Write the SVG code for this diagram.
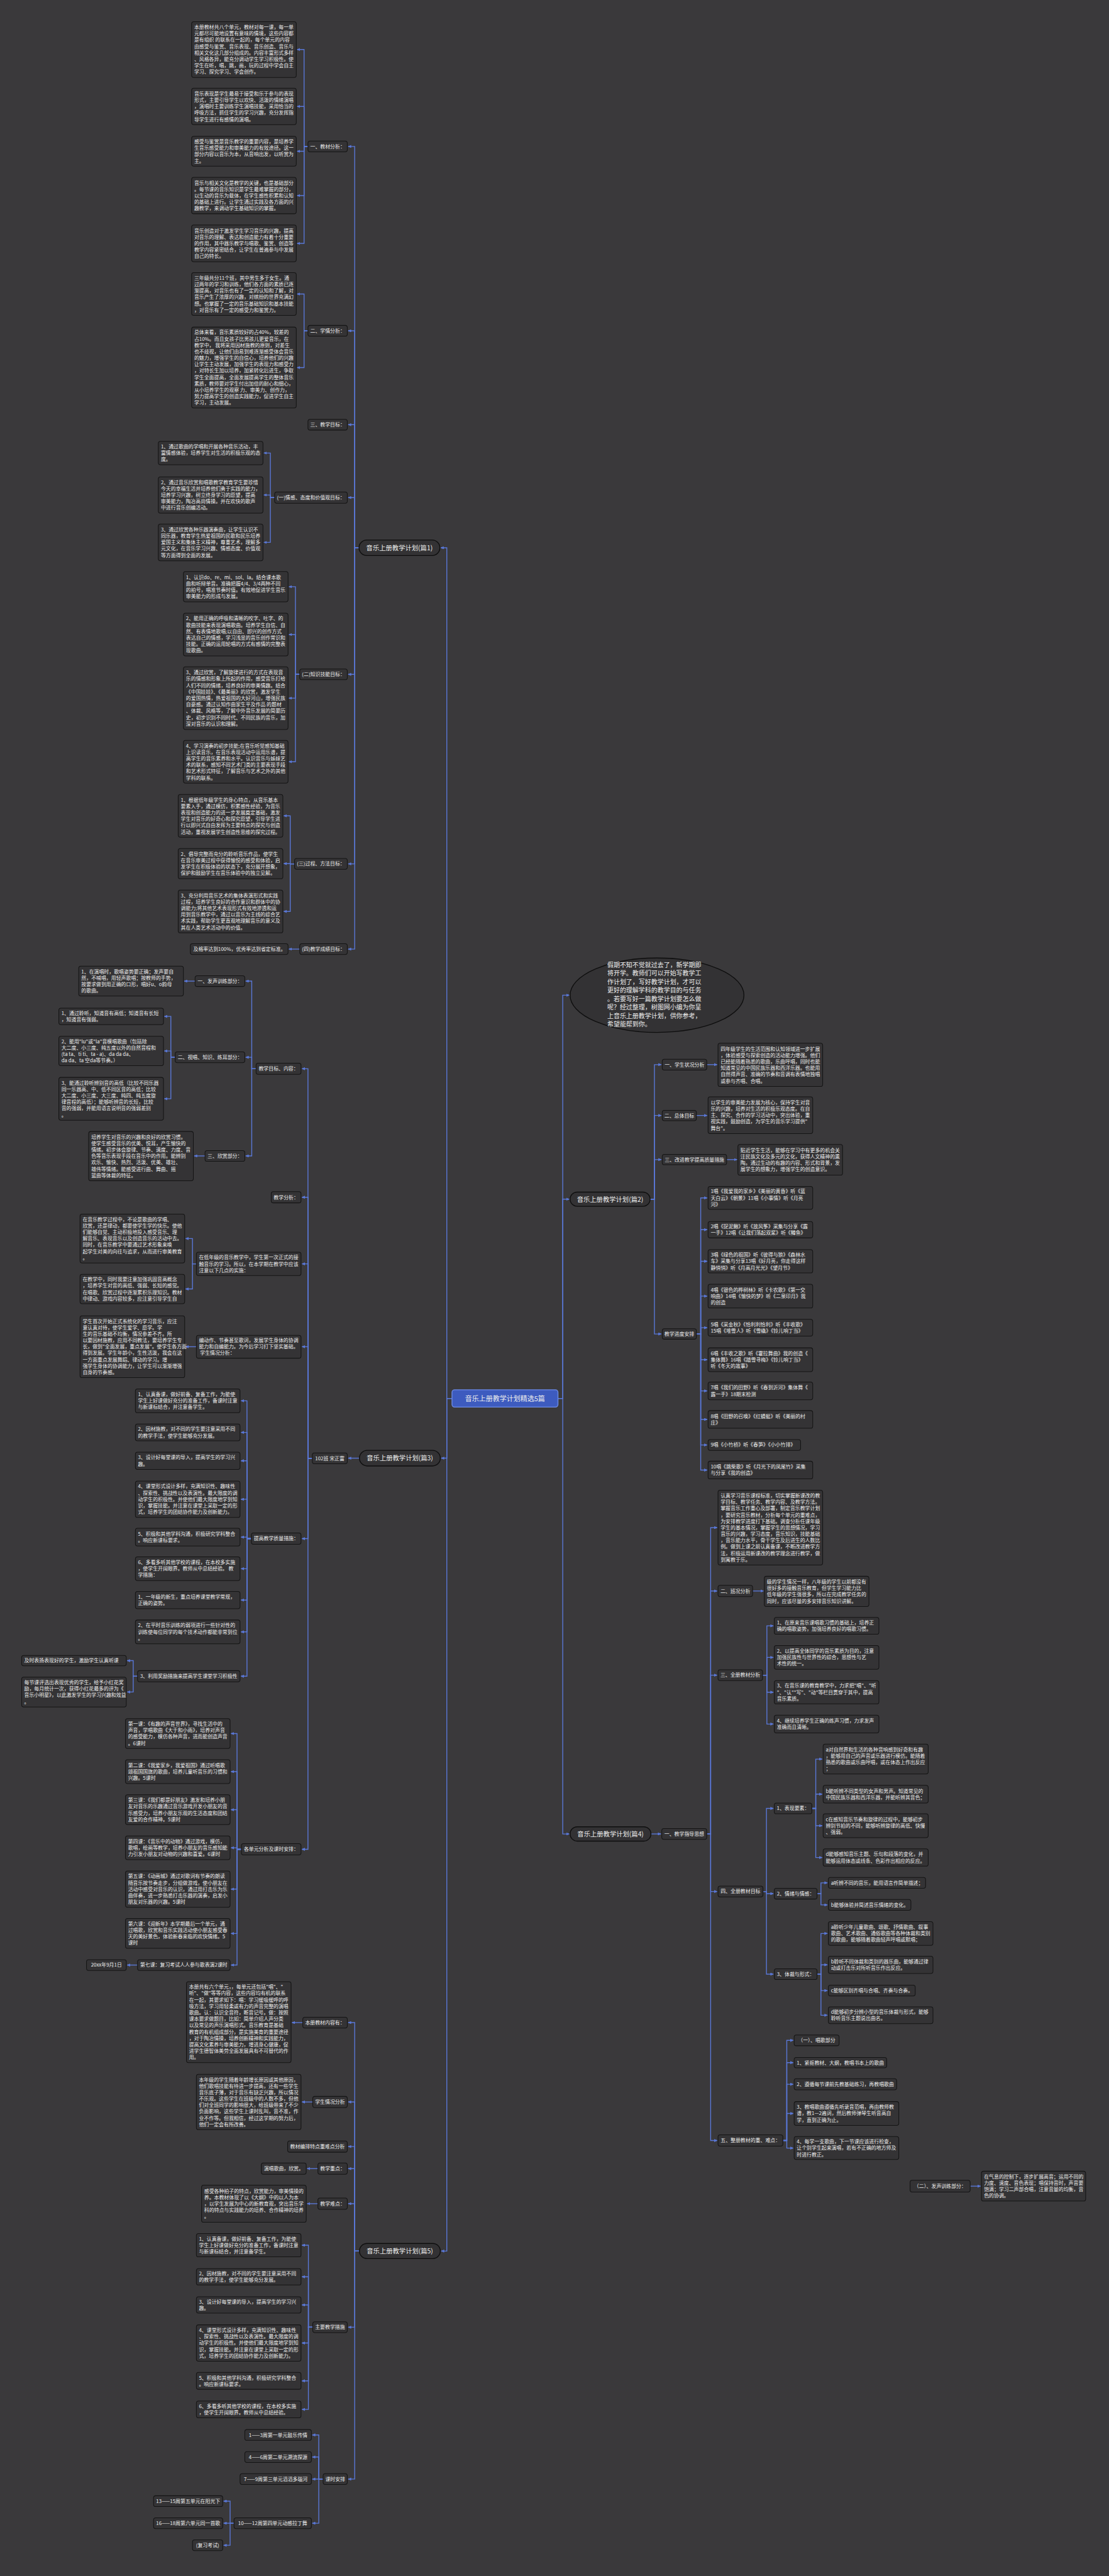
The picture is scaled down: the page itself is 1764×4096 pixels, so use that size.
<svg xmlns="http://www.w3.org/2000/svg" width="1764" height="4096" viewBox="0 0 1764 4096">
<defs>
<marker id="a" markerWidth="8" markerHeight="7" refX="7" refY="3.5" orient="auto" markerUnits="userSpaceOnUse"><path d="M0,0 L8,3.5 L0,7 Z" fill="#5a78d8"/></marker>
<style>
text{font-family:'Noto Sans CJK SC','Noto Sans',sans-serif;fill:#eeeeee;font-size:11.5px}
.c path{fill:none;stroke:#5a78d8;stroke-width:2;marker-end:url(#a)}
.r{fill:#343335;stroke:#141414;stroke-width:1.5}
.p{fill:#333234;stroke:#0e0e0e;stroke-width:2}
.m{text-anchor:middle}
.e{text-anchor:end}
.big{font-size:15px}
</style>
</defs>
<rect width="1764" height="4096" fill="#3a393b"/>
<g transform="scale(0.688)">
<g id="connectors" class="c">
<path d="M1045,3232 H1033 V1266 H1019"/><path d="M1045,3232 H1033 V3370 H1020"/><path d="M1045,3232 H1033 V5202.5 H1020"/>
<path d="M1290,3232 H1301 V2300 H1316"/><path d="M1290,3232 H1301 V2771.5 H1316"/><path d="M1290,3232 H1301 V4238.5 H1316"/>
<path d="M830,1266 H820 V338.5 H805"/><path d="M830,1266 H820 V764.5 H805"/><path d="M830,1266 H820 V981.5 H805"/><path d="M830,1266 H820 V1150 H805"/><path d="M830,1266 H820 V1558.5 H805"/><path d="M830,1266 H820 V1996.5 H805"/><path d="M830,1266 H820 V2193.5 H805"/>
<path d="M712,338.5 H703 V114.5 H687"/><path d="M712,338.5 H703 V246 H687"/><path d="M712,338.5 H703 V349.5 H687"/><path d="M712,338.5 H703 V452 H687"/><path d="M712,338.5 H703 V562.5 H687"/>
<path d="M712,764.5 H703 V679.5 H687"/><path d="M712,764.5 H703 V849.5 H687"/>
<path d="M635,1150 H625 V1047 H610"/><path d="M635,1150 H625 V1144 H610"/><path d="M635,1150 H625 V1253.5 H610"/>
<path d="M693,1558.5 H683 V1356 H668"/><path d="M693,1558.5 H683 V1466.5 H668"/><path d="M693,1558.5 H683 V1613.5 H668"/><path d="M693,1558.5 H683 V1760.5 H668"/>
<path d="M681,1996.5 H671 V1885.5 H656"/><path d="M681,1996.5 H671 V1996 H656"/><path d="M681,1996.5 H671 V2106.5 H656"/>
<path d="M693,2193.5 H668"/>
<path d="M831,3370 H805"/>
<path d="M722,3370.5 H712 V2470 H698"/><path d="M722,3370.5 H712 V2767 H698"/><path d="M722,3370.5 H712 V2921 H698"/><path d="M722,3370.5 H712 V3112.5 H698"/><path d="M722,3370.5 H712 V3556 H698"/><path d="M722,3370.5 H712 V4274 H698"/>
<path d="M592,2470 H582 V2267.5 H568"/><path d="M592,2470 H582 V2443.5 H568"/><path d="M592,2470 H582 V2671.5 H568"/>
<path d="M451,2267.5 H426"/>
<path d="M405,2443.5 H395 V2349 H380"/><path d="M405,2443.5 H395 V2429 H380"/><path d="M405,2443.5 H395 V2539.5 H380"/>
<path d="M474,2671.5 H449"/>
<path d="M454,2921 H445 V2862.5 H429"/><path d="M454,2921 H445 V2979 H429"/>
<path d="M454,3112.5 H429"/>
<path d="M581,3556 H571 V3237.5 H557"/><path d="M581,3556 H571 V3310.5 H557"/><path d="M581,3556 H571 V3376 H557"/><path d="M581,3556 H571 V3465 H557"/><path d="M581,3556 H571 V3552.5 H557"/><path d="M581,3556 H571 V3625.5 H557"/><path d="M581,3556 H571 V3698 H557"/><path d="M581,3556 H571 V3771.5 H557"/><path d="M581,3556 H571 V3874 H557"/>
<path d="M318,3874 H308 V3838 H294"/><path d="M318,3874 H308 V3910.5 H294"/>
<path d="M558,4274 H548 V4006.5 H534"/><path d="M558,4274 H548 V4094.5 H534"/><path d="M558,4274 H548 V4182.5 H534"/><path d="M558,4274 H548 V4270.5 H534"/><path d="M558,4274 H548 V4366 H534"/><path d="M558,4274 H548 V4468.5 H534"/><path d="M558,4274 H548 V4541.5 H534"/>
<path d="M318,4541.5 H294"/>
<path d="M831,5202.5 H820 V4674.5 H805"/><path d="M831,5202.5 H820 V4858 H805"/><path d="M831,5202.5 H820 V4961 H805"/><path d="M831,5202.5 H820 V5012 H805"/><path d="M831,5202.5 H820 V5093 H805"/><path d="M831,5202.5 H820 V5378.5 H805"/><path d="M831,5202.5 H820 V5729.5 H805"/>
<path d="M700,4674.5 H675"/><path d="M723,4858 H698"/><path d="M735,5012 H710"/><path d="M735,5093 H710"/>
<path d="M723,5378.5 H713 V5189 H698"/><path d="M723,5378.5 H713 V5262 H698"/><path d="M723,5378.5 H713 V5327 H698"/><path d="M723,5378.5 H713 V5415 H698"/><path d="M723,5378.5 H713 V5502.5 H698"/><path d="M723,5378.5 H713 V5568.5 H698"/>
<path d="M747,5729.5 H737 V5627.5 H722"/><path d="M747,5729.5 H737 V5678.5 H722"/><path d="M747,5729.5 H737 V5729.5 H722"/><path d="M747,5729.5 H737 V5831.5 H722"/>
<path d="M541,5831.5 H532 V5780.5 H517"/><path d="M541,5831.5 H532 V5831.5 H517"/><path d="M541,5831.5 H532 V5882.5 H517"/>
<path d="M1503,2771.5 H1513 V2460.5 H1529"/><path d="M1503,2771.5 H1513 V2578 H1529"/><path d="M1503,2771.5 H1513 V2680 H1529"/><path d="M1503,2771.5 H1513 V3083 H1529"/>
<path d="M1634,2460.5 H1658"/><path d="M1610,2578 H1635"/><path d="M1680,2680 H1704"/>
<path d="M1610,3083 H1620 V2768.5 H1635"/><path d="M1610,3083 H1620 V2842 H1635"/><path d="M1610,3083 H1620 V2915 H1635"/><path d="M1610,3083 H1620 V2995.5 H1635"/><path d="M1610,3083 H1620 V3068.5 H1635"/><path d="M1610,3083 H1620 V3142.5 H1635"/><path d="M1610,3083 H1620 V3214.5 H1635"/><path d="M1610,3083 H1620 V3280.5 H1635"/><path d="M1610,3083 H1620 V3339.5 H1635"/><path d="M1610,3083 H1620 V3397.5 H1635"/>
<path d="M1505,4238.5 H1528"/>
<path d="M1634,4238.5 H1643 V3530.5 H1658"/><path d="M1634,4238.5 H1643 V3677 H1658"/><path d="M1634,4238.5 H1643 V3871.5 H1658"/><path d="M1634,4238.5 H1643 V4371.5 H1658"/><path d="M1634,4238.5 H1643 V4947 H1658"/>
<path d="M1740,3677 H1765"/>
<path d="M1763,3871.5 H1773 V3757.5 H1788"/><path d="M1763,3871.5 H1773 V3830.5 H1788"/><path d="M1763,3871.5 H1773 V3911 H1788"/><path d="M1763,3871.5 H1773 V3984.5 H1788"/>
<path d="M1764,4371.5 H1772 V4179.5 H1788"/><path d="M1764,4371.5 H1772 V4376.5 H1788"/><path d="M1764,4371.5 H1772 V4562.5 H1788"/>
<path d="M1877,4179.5 H1886 V4065.5 H1901"/><path d="M1877,4179.5 H1886 V4146.5 H1901"/><path d="M1877,4179.5 H1886 V4219.5 H1901"/><path d="M1877,4179.5 H1886 V4293 H1901"/>
<path d="M1889,4376.5 H1898 V4351.5 H1913"/><path d="M1889,4376.5 H1898 V4402.5 H1913"/>
<path d="M1889,4562.5 H1898 V4468.5 H1913"/><path d="M1889,4562.5 H1898 V4541 H1913"/><path d="M1889,4562.5 H1898 V4600.5 H1913"/><path d="M1889,4562.5 H1898 V4657.5 H1913"/>
<path d="M1810,4947 H1819 V4715.5 H1834"/><path d="M1810,4947 H1819 V4767 H1834"/><path d="M1810,4947 H1819 V4817 H1834"/><path d="M1810,4947 H1819 V4884.5 H1834"/><path d="M1810,4947 H1819 V4964.5 H1834"/>
<path d="M2243,5052.5 H2267"/>
</g>

<g id="root"><rect x="1045" y="3212" width="245" height="40" rx="6" fill="#3d5bbf" stroke="#6e8ce6" stroke-width="2"/><text class="m" x="1167.5" y="3237.8" style="font-size:16px">音乐上册教学计划精选5篇</text></g>

<g id="p1"><rect class="p" x="830" y="1248" width="187" height="36" rx="18"/><text class="m big" x="923.5" y="1271.4">音乐上册教学计划(篇1)</text></g>
<g id="p1-l1"><rect class="r" x="712" y="326" width="91" height="25" rx="5"/><text class="m" x="757.5" y="342.7">一、教材分析：</text></g>
<g id="p1-l2"><rect class="r" x="712" y="752" width="91" height="25" rx="5"/><text class="m" x="757.5" y="768.7">二、学情分析：</text></g>
<g id="p1-l3"><rect class="r" x="712" y="969" width="91" height="25" rx="5"/><text class="m" x="757.5" y="985.7">三、教学目标：</text></g>
<g id="p1-l4"><rect class="r" x="635" y="1137" width="168" height="26" rx="5"/><text class="m" x="719" y="1154.2">(一)情感、态度和价值观目标：</text></g>
<g id="p1-l5"><rect class="r" x="693" y="1546" width="110" height="25" rx="5"/><text class="m" x="748" y="1562.7">(二)知识技能目标：</text></g>
<g id="p1-l6"><rect class="r" x="681" y="1984" width="122" height="25" rx="5"/><text class="m" x="742" y="2000.7">(三)过程、方法目标：</text></g>
<g id="p1-l7"><rect class="r" x="693" y="2181" width="110" height="25" rx="5"/><text class="m" x="748" y="2197.7">(四)教学成绩目标：</text></g>

<g id="p1-e1"><rect class="r" x="443" y="50" width="242" height="129" rx="5"/><text x="449" y="66.9"><tspan x="449">本册教材共八个单元，教材对每一课，每一单</tspan><tspan x="449" dy="14.8">元都尽可能地设置有意味的情境，这些内容都</tspan><tspan x="449" dy="14.8">是有组织 的联系在一起的，每个单元的内容</tspan><tspan x="449" dy="14.8">由感受与鉴赏、音乐表现、音乐创造、音乐与</tspan><tspan x="449" dy="14.8">相关文化这几部分组成的。内容丰富形式多样</tspan><tspan x="449" dy="14.8">、风格各异，能充分调动学生学习积极性。使</tspan><tspan x="449" dy="14.8">学生在听，唱，跳，画，玩的过程中学会自主</tspan><tspan x="449" dy="14.8">学习、探究学习、学会创作。</tspan></text></g>
<g id="p1-e2"><rect class="r" x="443" y="204" width="242" height="84" rx="5"/><text x="449" y="220.6"><tspan x="449">音乐表现是学生最易于接受和乐于参与的表现</tspan><tspan x="449" dy="14.8">形式，主要引导学生以欢快、活泼的情绪演唱</tspan><tspan x="449" dy="14.8">，演唱时主要训练学生演唱技能，采用恰当的</tspan><tspan x="449" dy="14.8">呼吸方法，抓住学生的学习兴趣，充分发挥指</tspan><tspan x="449" dy="14.8">导学生进行有感情的演唱。</tspan></text></g>
<g id="p1-e3"><rect class="r" x="443" y="315" width="242" height="69" rx="5"/><text x="449" y="331.5"><tspan x="449">感受与鉴赏是音乐教学的重要内容，是培养学</tspan><tspan x="449" dy="14.8">生音乐感受能力和审美能力的有效途径。这一</tspan><tspan x="449" dy="14.8">部分内容以音乐为本，从音响出发，以听赏为</tspan><tspan x="449" dy="14.8">主。</tspan></text></g>
<g id="p1-e4"><rect class="r" x="443" y="410" width="242" height="84" rx="5"/><text x="449" y="426.6"><tspan x="449">音乐与相关文化是教学的关键，也是基础部分</tspan><tspan x="449" dy="14.8">。每节课的音乐知识是学生最难掌握的部分，</tspan><tspan x="449" dy="14.8">以生动的音乐为载体，在学生感性积累和认知</tspan><tspan x="449" dy="14.8">的基础上进行。让学生通过实践及各方面的兴</tspan><tspan x="449" dy="14.8">趣教学，来调动学生基础知识的掌握。</tspan></text></g>
<g id="p1-e5"><rect class="r" x="443" y="520" width="242" height="85" rx="5"/><text x="449" y="537.1"><tspan x="449">音乐创造对于激发学生学习音乐的兴趣，提高</tspan><tspan x="449" dy="14.8">对音乐的理解、表达和创造能力有着十分重要</tspan><tspan x="449" dy="14.8">的作用，其中器乐教学与唱歌、鉴赏、创造等</tspan><tspan x="449" dy="14.8">教学内容紧密结合，让学生在普遍参与中发展</tspan><tspan x="449" dy="14.8">自己的特长。</tspan></text></g>
<g id="p1-q1"><rect class="r" x="443" y="630" width="242" height="99" rx="5"/><text x="449" y="646.7"><tspan x="449">三年级共分11个班，其中男生多于女生。通</tspan><tspan x="449" dy="14.8">过两年的学习和训练，他们各方面的素质已逐</tspan><tspan x="449" dy="14.8">渐提高，对音乐也有了一定的认知和了解，对</tspan><tspan x="449" dy="14.8">音乐产生了浓厚的兴趣，对缤纷的世界充满幻</tspan><tspan x="449" dy="14.8">想。也掌握了一定的音乐基础知识和基本技能</tspan><tspan x="449" dy="14.8">，对音乐有了一定的感受力和鉴赏力。</tspan></text></g>
<g id="p1-q2"><rect class="r" x="443" y="756" width="242" height="187" rx="5"/><text x="449" y="772.3"><tspan x="449">总体来看，音乐素质较好的占40%，较差的</tspan><tspan x="449" dy="14.8">占10%。而且女孩子比男孩儿更爱音乐，在</tspan><tspan x="449" dy="14.8">教学中， 我将采用因材施教的原则，对差生</tspan><tspan x="449" dy="14.8">也不歧视，让他们由易到难逐渐感受体会音乐</tspan><tspan x="449" dy="14.8">的魅力，增强学生的自信心，培养他们的兴趣</tspan><tspan x="449" dy="14.8">让学生主动发展，加强学生的表现力和感受力</tspan><tspan x="449" dy="14.8">，对特长生加以培养，加紧转化后进生，争取</tspan><tspan x="449" dy="14.8">学生全面提高，全面发展提高学生的整体音乐</tspan><tspan x="449" dy="14.8">素质，教师要对学生付出加倍的耐心和细心，</tspan><tspan x="449" dy="14.8">从小培养学生的观察 力、审美力、创作力，</tspan><tspan x="449" dy="14.8">努力提高学生的创造实践能力，促进学生自主</tspan><tspan x="449" dy="14.8">学习，主动发展。</tspan></text></g>
<g id="p1-a1"><rect class="r" x="366" y="1020" width="242" height="54" rx="5"/><text x="372" y="1036.4"><tspan x="372">1、通过歌曲的学唱和开展各种音乐活动，丰</tspan><tspan x="372" dy="14.8">富情感体验，培养学生对生活的积极乐观的态</tspan><tspan x="372" dy="14.8">度。</tspan></text></g>
<g id="p1-a2"><rect class="r" x="366" y="1102" width="242" height="84" rx="5"/><text x="372" y="1118.6"><tspan x="372">2、通过音乐欣赏和唱歌教学教育学生要珍惜</tspan><tspan x="372" dy="14.8">今天的幸福生活并培养他们勇于实践的能力，</tspan><tspan x="372" dy="14.8">培养学习兴趣，树立终身学习的愿望，提高</tspan><tspan x="372" dy="14.8">审美能力，陶冶高尚情操。并在欢快的歌声</tspan><tspan x="372" dy="14.8">中进行音乐创编活动。</tspan></text></g>
<g id="p1-a3"><rect class="r" x="366" y="1211" width="242" height="85" rx="5"/><text x="372" y="1228.1"><tspan x="372">3、通过欣赏各种乐器演奏曲，让学生认识不</tspan><tspan x="372" dy="14.8">同乐器，教育学生热爱祖国的民歌和民乐培养</tspan><tspan x="372" dy="14.8">爱国主义和集体主义精神，尊重艺术，理解多</tspan><tspan x="372" dy="14.8">元文化，在音乐学习兴趣、情感态度、价值观</tspan><tspan x="372" dy="14.8">等方面得到全面的发展。</tspan></text></g>
<g id="p1-k1"><rect class="r" x="424" y="1321" width="242" height="70" rx="5"/><text x="430" y="1338"><tspan x="430">1、认识do、re、mi、sol、la。结合课本歌</tspan><tspan x="430" dy="14.8">曲和听辩单音。准确把握4/4、3/4两种不同</tspan><tspan x="430" dy="14.8">的拍号，唱准节奏时值。有效地促进学生音乐</tspan><tspan x="430" dy="14.8">审美能力的形成与发展。</tspan></text></g>
<g id="p1-k2"><rect class="r" x="424" y="1417" width="242" height="99" rx="5"/><text x="430" y="1433.7"><tspan x="430">2、能用正确的呼吸和清晰的咬字、吐字、的</tspan><tspan x="430" dy="14.8">歌曲技能来表现演唱歌曲。培养学生自信、自</tspan><tspan x="430" dy="14.8">然、有表情地歌唱;以自由、即兴的创作方式</tspan><tspan x="430" dy="14.8">表达自己的情感，学习浅显的音乐创作常识和</tspan><tspan x="430" dy="14.8">技能。正确的运用轮唱的方式有感情的完整表</tspan><tspan x="430" dy="14.8">现歌曲。</tspan></text></g>
<g id="p1-k3"><rect class="r" x="424" y="1541" width="242" height="145" rx="5"/><text x="430" y="1558.5"><tspan x="430">3、通过欣赏，了解旋律进行的方式在表现音</tspan><tspan x="430" dy="14.8">乐的情感和形象上所起的作用，感受音乐打给</tspan><tspan x="430" dy="14.8">人们不同的情绪，培养良好的审美情趣。结合</tspan><tspan x="430" dy="14.8">《中国娃娃》、《最美丽》的欣赏，激发学生</tspan><tspan x="430" dy="14.8">的爱国热情，热爱祖国的大好河山，增强民族</tspan><tspan x="430" dy="14.8">自豪感。通过认知作曲家生平及作品 的题材</tspan><tspan x="430" dy="14.8">、体裁、风格等，了解中外音乐发展的简要历</tspan><tspan x="430" dy="14.8">史，初步识别不同时代、不同民族的音乐，加</tspan><tspan x="430" dy="14.8">深对音乐的认识和理解。</tspan></text></g>
<g id="p1-k4"><rect class="r" x="424" y="1711" width="242" height="99" rx="5"/><text x="430" y="1727.7"><tspan x="430">4、学习演奏的初步技能;在音乐听觉感知基础</tspan><tspan x="430" dy="14.8">上识读音乐，在音乐表现活动中运用乐谱，提</tspan><tspan x="430" dy="14.8">高学生的音乐素养和水平。认识音乐与姊妹艺</tspan><tspan x="430" dy="14.8">术的联系，感知不同艺术门类的主要表现手段</tspan><tspan x="430" dy="14.8">和艺术形式特征，了解音乐与艺术之外的其他</tspan><tspan x="430" dy="14.8">学科的联系。</tspan></text></g>
<g id="p1-m1"><rect class="r" x="412" y="1836" width="242" height="99" rx="5"/><text x="418" y="1852.7"><tspan x="418">1、根据低年级学生的身心特点，从音乐基本</tspan><tspan x="418" dy="14.8">要素入手，通过模仿，积累感性经验，为音乐</tspan><tspan x="418" dy="14.8">表现和创造能力的进一步发展奠定基础，激发</tspan><tspan x="418" dy="14.8">学生对音乐的好奇心和探究愿望，引导学生进</tspan><tspan x="418" dy="14.8">行以即兴式自由发挥为主要特点的探究与创造</tspan><tspan x="418" dy="14.8">活动，重视发展学生创造性思维的探究过程。</tspan></text></g>
<g id="p1-m2"><rect class="r" x="412" y="1961" width="242" height="70" rx="5"/><text x="418" y="1978"><tspan x="418">2、倡导完整而充分的聆听音乐作品，使学生</tspan><tspan x="418" dy="14.8">在音乐审美过程中获得愉悦的感受和体验，启</tspan><tspan x="418" dy="14.8">发学生在积极体验的状态下，充分展开想象，</tspan><tspan x="418" dy="14.8">保护和鼓励学生在音乐体验中的独立见解。</tspan></text></g>
<g id="p1-m3"><rect class="r" x="412" y="2057" width="242" height="99" rx="5"/><text x="418" y="2073.7"><tspan x="418">3、充分利用音乐艺术的集体表演形式和实践</tspan><tspan x="418" dy="14.8">过程，培养学生良好的合作意识和群体中的协</tspan><tspan x="418" dy="14.8">调能力;将其他艺术表现形式有效地渗透和运</tspan><tspan x="418" dy="14.8">用到音乐教学中，通过以音乐为主线的综合艺</tspan><tspan x="418" dy="14.8">术实践，帮助学生更直观地理解音乐的意义及</tspan><tspan x="418" dy="14.8">其在人类艺术活动中的价值。</tspan></text></g>
<g id="p1-g"><rect class="r" x="440" y="2181" width="226" height="25" rx="5"/><text x="447" y="2197.7">及格率达到100%，优秀率达到省定标准。</text></g>

<g id="p3"><rect class="p" x="831" y="3352" width="187" height="36" rx="18"/><text class="m big" x="924.5" y="3375.4">音乐上册教学计划(篇3)</text></g>
<g id="p3-t"><rect class="r" x="722" y="3358" width="81" height="25" rx="5"/><text class="m" x="762.5" y="3374.7">102班 宋正富</text></g>
<g id="p3-n1"><rect class="r" x="592" y="2457" width="104" height="26" rx="5"/><text class="m" x="644" y="2474.2">教学目标、内容：</text></g>
<g id="p3-n2"><rect class="r" x="627" y="2754" width="69" height="26" rx="5"/><text class="m" x="661.5" y="2771.2">教学分析：</text></g>
<g id="p3-n3"><rect class="r" x="454" y="2894" width="242" height="54" rx="5"/><text x="460" y="2910.4"><tspan x="460">在低年级的音乐教学中，学生第一次正式的接</tspan><tspan x="460" dy="14.8">触音乐的学习。所以，在本学期在教学中应该</tspan><tspan x="460" dy="14.8">注意以下几点的实施：</tspan></text></g>
<g id="p3-n4"><rect class="r" x="454" y="3086" width="242" height="53" rx="5"/><text x="460" y="3101.9"><tspan x="460">编动作、节奏甚至歌词，发展学生身体的协调</tspan><tspan x="460" dy="14.8">能力和自编能力。为今后学习打下坚实基础。</tspan><tspan x="460" dy="14.8"> 学生情况分析：</tspan></text></g>
<g id="p3-n5"><rect class="r" x="581" y="3543" width="115" height="26" rx="5"/><text class="m" x="638.5" y="3560.2">提高教学质量措施：</text></g>
<g id="p3-n6"><rect class="r" x="558" y="4261" width="138" height="26" rx="5"/><text class="m" x="627" y="4278.2">各单元分析及课时安排：</text></g>
<g id="p3-s1"><rect class="r" x="451" y="2255" width="115" height="25" rx="5"/><text class="m" x="508.5" y="2271.7">一、发声训练部分：</text></g>
<g id="p3-s2"><rect class="r" x="405" y="2431" width="161" height="25" rx="5"/><text class="m" x="485.5" y="2447.7">二、视唱、知识、练耳部分：</text></g>
<g id="p3-s3"><rect class="r" x="474" y="2659" width="92" height="25" rx="5"/><text class="m" x="520" y="2675.7">三、欣赏部分：</text></g>
<g id="p3-s1c"><rect class="r" x="182" y="2233" width="242" height="69" rx="5"/><text x="188" y="2249.5"><tspan x="188">1、在演唱时，歌唱姿势要正确；发声要自</tspan><tspan x="188" dy="14.8">然，不喊唱，用轻声歌唱；按教师的手势，</tspan><tspan x="188" dy="14.8">按要求做到用正确的口形，唱好u、o韵母</tspan><tspan x="188" dy="14.8">的歌曲。</tspan></text></g>
<g id="p3-c1"><rect class="r" x="136" y="2330" width="242" height="38" rx="5"/><text x="142" y="2345.8"><tspan x="142">1、通过聆听，知道音有高低；知道音有长短</tspan><tspan x="142" dy="14.8">，知道音有强弱。</tspan></text></g>
<g id="p3-c2"><rect class="r" x="136" y="2395" width="242" height="68" rx="5"/><text x="142" y="2411"><tspan x="142">2、能用"lu"或"la"音模唱歌曲（包括除</tspan><tspan x="142" dy="14.8">大二度、小三度、纯五度以外的自然音程和</tspan><tspan x="142" dy="14.8">(ta ta、ti ti、ta - a)、da da da、</tspan><tspan x="142" dy="14.8">da da、ta 空da等节奏。）</tspan></text></g>
<g id="p3-c3"><rect class="r" x="136" y="2490" width="242" height="99" rx="5"/><text x="142" y="2506.7"><tspan x="142">3、能通过聆听辨别音的高低（比较不同乐器</tspan><tspan x="142" dy="14.8">同一乐器高、中、低不同区音的高低；比较</tspan><tspan x="142" dy="14.8">大二度、小三度、大三度、纯四、纯五度旋</tspan><tspan x="142" dy="14.8">律音程的高低）；能够听辨音的长短，比较</tspan><tspan x="142" dy="14.8">音的强弱，并能用语言说明音的强弱差别</tspan><tspan x="142" dy="14.8">。</tspan></text></g>
<g id="p3-s3c"><rect class="r" x="205" y="2615" width="242" height="114" rx="5"/><text x="211" y="2631.8"><tspan x="211">培养学生对音乐的兴趣和良好的欣赏习惯。</tspan><tspan x="211" dy="14.8">使学生感受音乐的优美、悦耳，产生愉快的</tspan><tspan x="211" dy="14.8">情绪。初步体会旋律、节奏、速度、力度、音</tspan><tspan x="211" dy="14.8">色等音乐表现手段在音乐中的作用。能辨别</tspan><tspan x="211" dy="14.8">欢乐、愉快、热烈、活泼、优美、雄壮、</tspan><tspan x="211" dy="14.8">雄伟等情绪。能感受进行曲、舞曲、摇</tspan><tspan x="211" dy="14.8">篮曲等体裁的特征。</tspan></text></g>
<g id="p3-b1"><rect class="r" x="185" y="2806" width="242" height="113" rx="5"/><text x="191" y="2822.3"><tspan x="191">在音乐教学过程中，不论是歌曲的学唱、</tspan><tspan x="191" dy="14.8">欣赏，还是律动，都要使学生学的快乐。使他</tspan><tspan x="191" dy="14.8">们能够自觉、主动积极地投入感受音乐、理</tspan><tspan x="191" dy="14.8">解音乐、表现音乐以及创造音乐的活动中去。</tspan><tspan x="191" dy="14.8">同时，在音乐教学中要通过艺术形象来唤</tspan><tspan x="191" dy="14.8">起学生对美的向往与追求，从而进行审美教育</tspan><tspan x="191" dy="14.8">。</tspan></text></g>
<g id="p3-b2"><rect class="r" x="185" y="2945" width="242" height="68" rx="5"/><text x="191" y="2961"><tspan x="191">在教学中，同时我要注意加强巩固音高概念</tspan><tspan x="191" dy="14.8">，培养学生对音的高低、强弱、长短的感觉。</tspan><tspan x="191" dy="14.8">在唱歌、欣赏过程中逐渐累积乐理知识。教材</tspan><tspan x="191" dy="14.8">中律动、游戏内容较多，应注意引导学生自</tspan></text></g>
<g id="p3-b3"><rect class="r" x="185" y="3041" width="242" height="143" rx="5"/><text x="191" y="3057.5"><tspan x="191">学生首次开始正式系统化的学习音乐，应注</tspan><tspan x="191" dy="14.8">意认真对待，使学生爱学、愿学。学</tspan><tspan x="191" dy="14.8">生的音乐基础不均衡，情况参差不齐。所</tspan><tspan x="191" dy="14.8">以要因材施教，应用不同教法，要培养学生专</tspan><tspan x="191" dy="14.8">长，做到"全面发展，重点发展"。使学生各方面</tspan><tspan x="191" dy="14.8">得到发展。学生年龄小，生性活泼，我会在这</tspan><tspan x="191" dy="14.8">一方面重点发展舞蹈、律动的学习。增</tspan><tspan x="191" dy="14.8">强学生身体的协调能力，让学生可以渐渐增强</tspan><tspan x="191" dy="14.8">自身的节奏感。</tspan></text></g>
<g id="p3-m1"><rect class="r" x="313" y="3210" width="242" height="55" rx="5"/><text x="319" y="3226.9"><tspan x="319">1、认真备课，做好前备、复备工作，为能使</tspan><tspan x="319" dy="14.8">学生上好课做好充分的准备工作，备课时注意</tspan><tspan x="319" dy="14.8">与新课标结合，并注意备学生。</tspan></text></g>
<g id="p3-m2"><rect class="r" x="313" y="3291" width="242" height="39" rx="5"/><text x="319" y="3307.3"><tspan x="319">2、因材施教，对不同的学生要注意采用不同</tspan><tspan x="319" dy="14.8">的教学手法，使学生能够充分发展。</tspan></text></g>
<g id="p3-m3"><rect class="r" x="313" y="3356" width="242" height="40" rx="5"/><text x="319" y="3372.8"><tspan x="319">3、设计好每堂课的导入，提高学生的学习兴</tspan><tspan x="319" dy="14.8">趣。</tspan></text></g>
<g id="p3-m4"><rect class="r" x="313" y="3423" width="242" height="84" rx="5"/><text x="319" y="3439.6"><tspan x="319">4、课堂形式设计多样，充满知识性、趣味性</tspan><tspan x="319" dy="14.8">、探索性、挑战性以及表演性。最大限度的调</tspan><tspan x="319" dy="14.8">动学生的积极性。并使他们最大限度地学到知</tspan><tspan x="319" dy="14.8">识，掌握技能。并注意在课堂上采取一定的形</tspan><tspan x="319" dy="14.8">式，培养学生的团结协作能力及创新能力。</tspan></text></g>
<g id="p3-m5"><rect class="r" x="313" y="3532" width="242" height="41" rx="5"/><text x="319" y="3549.3"><tspan x="319">5、积极和其他学科沟通，积极研究学科整合</tspan><tspan x="319" dy="14.8">。响应新课标要求。</tspan></text></g>
<g id="p3-m6"><rect class="r" x="313" y="3598" width="242" height="55" rx="5"/><text x="319" y="3614.9"><tspan x="319">6、多看多听其他学校的课程，在本校多实施</tspan><tspan x="319" dy="14.8">，使学生开阔眼界。教师从中总结经验。 教</tspan><tspan x="319" dy="14.8">学措施：</tspan></text></g>
<g id="p3-m7"><rect class="r" x="313" y="3678" width="242" height="40" rx="5"/><text x="319" y="3694.8"><tspan x="319">1、一年级的新生，重点培养课堂教学常规，</tspan><tspan x="319" dy="14.8">正确的姿势。</tspan></text></g>
<g id="p3-m8"><rect class="r" x="313" y="3744" width="242" height="55" rx="5"/><text x="319" y="3760.9"><tspan x="319">2、在平时音乐训练的弱项进行一些针对性的</tspan><tspan x="319" dy="14.8">训练使每位同学的每个技术动作都能非常到位</tspan><tspan x="319" dy="14.8">。</tspan></text></g>
<g id="p3-m9"><rect class="r" x="318" y="3861" width="237" height="26" rx="5"/><text x="324" y="3878.2">3、利用奖励措施来提高学生课堂学习积极性</text></g>
<g id="p3-x1"><rect class="r" x="50" y="3826" width="242" height="24" rx="5"/><text x="56" y="3842.2">及时表扬表现好的学生，激励学生认真听课</text></g>
<g id="p3-x2"><rect class="r" x="50" y="3876" width="242" height="69" rx="5"/><text x="56" y="3892.5"><tspan x="56">每节课评选出表现优秀的学生，给予小红花奖</tspan><tspan x="56" dy="14.8">励，每月统计一次，获得小红花最多的评为《</tspan><tspan x="56" dy="14.8">音乐小明星》，以此激发学生的学习兴趣和效益</tspan><tspan x="56" dy="14.8">。</tspan></text></g>
<g id="p3-u1"><rect class="r" x="290" y="3972" width="242" height="69" rx="5"/><text x="296" y="3988.5"><tspan x="296">第一课：《有趣的声音世界》，寻找生活中的</tspan><tspan x="296" dy="14.8">声音，学唱歌曲《大于和小雨》，培养对声音</tspan><tspan x="296" dy="14.8">的感受能力，模仿各种声音，进而能创造声音</tspan><tspan x="296" dy="14.8">。6课时</tspan></text></g>
<g id="p3-u2"><rect class="r" x="290" y="4067" width="242" height="55" rx="5"/><text x="296" y="4083.9"><tspan x="296">第二课：《我爱家乡，我爱祖国》通过听唱歌</tspan><tspan x="296" dy="14.8">颂祖国国旗的歌曲，培养儿童听音乐的习惯和</tspan><tspan x="296" dy="14.8">兴趣。5课时</tspan></text></g>
<g id="p3-u3"><rect class="r" x="290" y="4148" width="242" height="69" rx="5"/><text x="296" y="4164.5"><tspan x="296">第三课：《我们都是好朋友》激发和培养小朋</tspan><tspan x="296" dy="14.8">友对音乐的乐趣通过音乐游戏开发小朋友的音</tspan><tspan x="296" dy="14.8">乐感受力，培养小朋友乐观的生活态度和团结</tspan><tspan x="296" dy="14.8">友爱的合作精神。5课时</tspan></text></g>
<g id="p3-u4"><rect class="r" x="290" y="4243" width="242" height="55" rx="5"/><text x="296" y="4259.9"><tspan x="296">第四课：《音乐中的动物》通过游戏，模仿，</tspan><tspan x="296" dy="14.8">歌唱，绘画等教学，培养小朋友的音乐感知能</tspan><tspan x="296" dy="14.8">力引发小朋友对动物的兴趣和喜爱。6课时</tspan></text></g>
<g id="p3-u5"><rect class="r" x="290" y="4324" width="242" height="84" rx="5"/><text x="296" y="4340.6"><tspan x="296">第五课：《动画城》通过对歌词有节奏的朗读</tspan><tspan x="296" dy="14.8">随音乐按节奏走步，分组做游戏，使小朋友在</tspan><tspan x="296" dy="14.8">活动中感受对音乐的认识，通过用打击乐为乐</tspan><tspan x="296" dy="14.8">曲伴奏，进一步熟悉打击乐器的演奏，启发小</tspan><tspan x="296" dy="14.8">朋友对乐器的兴趣。5课时</tspan></text></g>
<g id="p3-u6"><rect class="r" x="290" y="4434" width="242" height="69" rx="5"/><text x="296" y="4450.5"><tspan x="296">第六课：《迎新年》本学期最后一个单元，通</tspan><tspan x="296" dy="14.8">过唱歌，欣赏和音乐实践活动使小朋友感受春</tspan><tspan x="296" dy="14.8">天的美好景色，体验新春来临的欢快情绪。5</tspan><tspan x="296" dy="14.8">课时</tspan></text></g>
<g id="p3-u7"><rect class="r" x="318" y="4529" width="214" height="25" rx="5"/><text x="324" y="4545.7">第七课：复习考试人人参与歌表演2课时</text></g>
<g id="p3-u7c"><rect class="r" x="200" y="4529" width="92" height="25" rx="5"/><text class="m" x="246" y="4545.7">20xx年9月1日</text></g>

<g id="p5"><rect class="p" x="831" y="5185" width="187" height="35" rx="17.5"/><text class="m big" x="924.5" y="5207.8">音乐上册教学计划(篇5)</text></g>
<g id="p5-n1"><rect class="r" x="700" y="4662" width="103" height="25" rx="5"/><text class="m" x="751.5" y="4678.7">本册教材内容有：</text></g>
<g id="p5-n2"><rect class="r" x="723" y="4845" width="80" height="26" rx="5"/><text class="m" x="763" y="4862.2">学生情况分析</text></g>
<g id="p5-n3"><rect class="r" x="665" y="4948" width="138" height="26" rx="5"/><text class="m" x="734" y="4965.2">教材编排特点重难点分析</text></g>
<g id="p5-n4"><rect class="r" x="735" y="4999" width="68" height="26" rx="5"/><text class="m" x="769" y="5016.2">教学重点：</text></g>
<g id="p5-n5"><rect class="r" x="735" y="5080" width="68" height="26" rx="5"/><text class="m" x="769" y="5097.2">教学难点：</text></g>
<g id="p5-n6"><rect class="r" x="723" y="5366" width="80" height="25" rx="5"/><text class="m" x="763" y="5382.7">主要教学措施</text></g>
<g id="p5-n7"><rect class="r" x="747" y="5717" width="56" height="25" rx="5"/><text class="m" x="775" y="5733.7">课时安排</text></g>
<g id="p5-c1"><rect class="r" x="431" y="4580" width="242" height="187" rx="5"/><text x="437" y="4596.3"><tspan x="437">本册共有六个单元，，每单元还包括"唱"、"</tspan><tspan x="437" dy="14.8">听"、"做"等等内容，这些内容均有机的联系</tspan><tspan x="437" dy="14.8">在一起，其要求如下：唱：学习缓吸缓呼的呼</tspan><tspan x="437" dy="14.8">吸方法，学习用轻柔或有力的声音完整的演唱</tspan><tspan x="437" dy="14.8">歌曲。认：认识全音符，断音记号。做：按照</tspan><tspan x="437" dy="14.8">课本要求做题目，比如：简单介绍人声分类</tspan><tspan x="437" dy="14.8">以及常见的声乐演唱形式。音乐教育是基础</tspan><tspan x="437" dy="14.8">教育的有机组成部分，是实施美育的重要途径</tspan><tspan x="437" dy="14.8">，对于陶冶情操，培养创新精神和实践能力，</tspan><tspan x="437" dy="14.8">提高文化素养与审美能力，增进身心健康，促</tspan><tspan x="437" dy="14.8">进学生德智体美劳全面发展具有不可替代的作</tspan><tspan x="437" dy="14.8">用。</tspan></text></g>
<g id="p5-c2"><rect class="r" x="454" y="4794" width="242" height="128" rx="5"/><text x="460" y="4810.4"><tspan x="460">本年级的学生随着年龄增长原因或其他原因，</tspan><tspan x="460" dy="14.8">他们歌唱技能有待进一步提高，还有一些学生</tspan><tspan x="460" dy="14.8">音乐底子薄，对于音乐有缺乏兴趣，所以情况</tspan><tspan x="460" dy="14.8">不乐观。这些学生在班级中的人数不多，但他</tspan><tspan x="460" dy="14.8">们对全班同学的影响很大，给班级带来了不少</tspan><tspan x="460" dy="14.8">负面影响，这些学生上课时乱叫，音不准，作</tspan><tspan x="460" dy="14.8">业不作等。但我相信，经过这学期的努力后，</tspan><tspan x="460" dy="14.8">他们一定会有所改善。</tspan></text></g>
<g id="p5-c4"><rect class="r" x="604" y="4999" width="104" height="26" rx="5"/><text class="m" x="656" y="5016.2">演唱歌曲，欣赏。</text></g>
<g id="p5-c5"><rect class="r" x="466" y="5050" width="242" height="86" rx="5"/><text x="472" y="5067.6"><tspan x="472">感受各种拍子的特点，欣赏能力，审美情操的</tspan><tspan x="472" dy="14.8">养。本教材体现了以《大纲》中的以人为本</tspan><tspan x="472" dy="14.8">，以学生发展为中心的新教育观，突出音乐学</tspan><tspan x="472" dy="14.8">科的特点与实践能力的培养、合作精神的培养</tspan><tspan x="472" dy="14.8">。</tspan></text></g>
<g id="p5-w1"><rect class="r" x="454" y="5162" width="242" height="54" rx="5"/><text x="460" y="5178.4"><tspan x="460">1、认真备课，做好前备、复备工作，为能使</tspan><tspan x="460" dy="14.8">学生上好课做好充分的准备工作，备课时注意</tspan><tspan x="460" dy="14.8">与新课标结合，并注意备学生。</tspan></text></g>
<g id="p5-w2"><rect class="r" x="454" y="5243" width="242" height="38" rx="5"/><text x="460" y="5258.8"><tspan x="460">2、因材施教，对不同的学生要注意采用不同</tspan><tspan x="460" dy="14.8">的教学手法，使学生能够充分发展。</tspan></text></g>
<g id="p5-w3"><rect class="r" x="454" y="5308" width="242" height="38" rx="5"/><text x="460" y="5323.8"><tspan x="460">3、设计好每堂课的导入，提高学生的学习兴</tspan><tspan x="460" dy="14.8">趣。</tspan></text></g>
<g id="p5-w4"><rect class="r" x="454" y="5373" width="242" height="84" rx="5"/><text x="460" y="5389.6"><tspan x="460">4、课堂形式设计多样，充满知识性、趣味性</tspan><tspan x="460" dy="14.8">、探索性、挑战性以及表演性。最大限度的调</tspan><tspan x="460" dy="14.8">动学生的积极性。并使他们最大限度地学到知</tspan><tspan x="460" dy="14.8">识，掌握技能。并注意在课堂上采取一定的形</tspan><tspan x="460" dy="14.8">式，培养学生的团结协作能力及创新能力。</tspan></text></g>
<g id="p5-w5"><rect class="r" x="454" y="5483" width="242" height="39" rx="5"/><text x="460" y="5499.3"><tspan x="460">5、积极和其他学科沟通，积极研究学科整合</tspan><tspan x="460" dy="14.8">。响应新课标要求。</tspan></text></g>
<g id="p5-w6"><rect class="r" x="454" y="5549" width="242" height="39" rx="5"/><text x="460" y="5565.3"><tspan x="460">6、多看多听其他学校的课程，在本校多实施</tspan><tspan x="460" dy="14.8">，使学生开阔眼界。教师从中总结经验。</tspan></text></g>
<g id="p5-k1"><rect class="r" x="566" y="5615" width="154" height="25" rx="5"/><text class="m" x="643" y="5631.7">1——3周第一单元鼓乐传情</text></g>
<g id="p5-k2"><rect class="r" x="566" y="5666" width="154" height="25" rx="5"/><text class="m" x="643" y="5682.7">4——6周第二单元溯流探源</text></g>
<g id="p5-k3"><rect class="r" x="555" y="5717" width="165" height="25" rx="5"/><text class="m" x="637.5" y="5733.7">7——9周第三单元滔滔多瑙河</text></g>
<g id="p5-k4"><rect class="r" x="541" y="5819" width="179" height="25" rx="5"/><text class="m" x="630.5" y="5835.7">10——12周第四单元动感拉丁舞</text></g>
<g id="p5-y1"><rect class="r" x="355" y="5768" width="160" height="25" rx="5"/><text class="m" x="435" y="5784.7">13——15周第五单元在阳光下</text></g>
<g id="p5-y2"><rect class="r" x="355" y="5819" width="160" height="25" rx="5"/><text class="m" x="435" y="5835.7">16——18周第六单元同一首歌</text></g>
<g id="p5-y3"><rect class="r" x="445" y="5870" width="70" height="25" rx="5"/><text class="m" x="480" y="5886.7">(复习考试)</text></g>

<g id="intro"><ellipse cx="1519" cy="2300" rx="201" ry="86" fill="#333234" stroke="#0e0e0e" stroke-width="2"/><text x="1404" y="2235.3" style="font-size:14.5px"><tspan x="1404">假期不知不觉就过去了，新学期即</tspan><tspan x="1404" dy="19.6">将开学。教师们可以开始写教学工</tspan><tspan x="1404" dy="19.6">作计划了，写好教学计划，才可以</tspan><tspan x="1404" dy="19.6">更好的理解学科的教学目的与任务</tspan><tspan x="1404" dy="19.6">。若要写好一篇教学计划要怎么做</tspan><tspan x="1404" dy="19.6">呢？经过整理，树图网小编为你呈</tspan><tspan x="1404" dy="19.6">上音乐上册教学计划，供你参考，</tspan><tspan x="1404" dy="19.6">希望能帮到你。</tspan></text></g>

<g id="p2"><rect class="p" x="1318" y="2755" width="185" height="33" rx="16.5"/><text class="m big" x="1410.5" y="2776.9">音乐上册教学计划(篇2)</text></g>
<g id="p2-n1"><rect class="r" x="1531" y="2448" width="103" height="25" rx="5"/><text class="m" x="1582.5" y="2464.7">一、学生状况分析</text></g>
<g id="p2-n2"><rect class="r" x="1531" y="2566" width="79" height="24" rx="5"/><text class="m" x="1570.5" y="2582.2">二、总体目标</text></g>
<g id="p2-n3"><rect class="r" x="1531" y="2668" width="149" height="24" rx="5"/><text class="m" x="1605.5" y="2684.2">三、改进教学提高质量措施</text></g>
<g id="p2-n4"><rect class="r" x="1531" y="3071" width="79" height="24" rx="5"/><text class="m" x="1570.5" y="3087.2">教学进度安排</text></g>
<g id="p2-c1"><rect class="r" x="1660" y="2411" width="242" height="100" rx="5"/><text x="1666" y="2428.2"><tspan x="1666">四年级学生的生活范围和认知领域进一步扩展</tspan><tspan x="1666" dy="14.8">，体验感受与探索创造的活动能力增强。他们</tspan><tspan x="1666" dy="14.8">已经能随着熟悉的歌曲，乐曲哼唱，同时也能</tspan><tspan x="1666" dy="14.8">知道常见的中国民族乐器和西洋乐器。也能用</tspan><tspan x="1666" dy="14.8">自然得声音、准确的节奏和音调有表情地独唱</tspan><tspan x="1666" dy="14.8">或参与齐唱、合唱。</tspan></text></g>
<g id="p2-c2"><rect class="r" x="1637" y="2535" width="242" height="85" rx="5"/><text x="1643" y="2552.1"><tspan x="1643">以学生的审美能力发展为核心，保持学生对音</tspan><tspan x="1643" dy="14.8">乐的兴趣，培养对生活的积极乐观态度。在自</tspan><tspan x="1643" dy="14.8">主、探究、合作的学习活动中，突出体验，重</tspan><tspan x="1643" dy="14.8">视实践，鼓励创造，为学生的音乐学习提供"</tspan><tspan x="1643" dy="14.8">舞台"。</tspan></text></g>
<g id="p2-c3"><rect class="r" x="1706" y="2645" width="242" height="71" rx="5"/><text x="1712" y="2662.5"><tspan x="1712">贴近学生生活，能够在学习中有更多的机会关</tspan><tspan x="1712" dy="14.8">注民族文化及多元的文化，获得人文精神的熏</tspan><tspan x="1712" dy="14.8">陶。通过生动的有趣的内容、形式和背景，发</tspan><tspan x="1712" dy="14.8">展学生的想象力，增强学生的创造意识。</tspan></text></g>
<g id="p2-s1"><rect class="r" x="1637" y="2742" width="242" height="53" rx="5"/><text x="1643" y="2757.9"><tspan x="1643">1唱《我爱我的家乡》《美丽的黄昏》听《蓝</tspan><tspan x="1643" dy="14.8">天白云》《朝景》11唱《小事情》听《月亮</tspan><tspan x="1643" dy="14.8">河》</tspan></text></g>
<g id="p2-s2"><rect class="r" x="1637" y="2823" width="242" height="38" rx="5"/><text x="1643" y="2838.8"><tspan x="1643">2唱《捉泥鳅》听《放风筝》采集与分享《露</tspan><tspan x="1643" dy="14.8">一手》12唱《让我们荡起双桨》听《鳟鱼》</tspan></text></g>
<g id="p2-s3"><rect class="r" x="1637" y="2888" width="242" height="54" rx="5"/><text x="1643" y="2904.4"><tspan x="1643">3唱《绿色的祖国》听《彼得与狼》《森林水</tspan><tspan x="1643" dy="14.8">车》采集与分享13唱《好月亮，你走得这样</tspan><tspan x="1643" dy="14.8">静悄悄》听《月高月光光》《望月节》</tspan></text></g>
<g id="p2-s4"><rect class="r" x="1637" y="2968" width="242" height="55" rx="5"/><text x="1643" y="2984.9"><tspan x="1643">4唱《银色的桦树林》听《卡农歌》《第一交</tspan><tspan x="1643" dy="14.8">响曲》14唱《愉快的梦》听《二泉印月》我</tspan><tspan x="1643" dy="14.8">的创造</tspan></text></g>
<g id="p2-s5"><rect class="r" x="1637" y="3049" width="242" height="39" rx="5"/><text x="1643" y="3065.3"><tspan x="1643">5唱《采金秋》《恰利利恰利》听《丰收歌》</tspan><tspan x="1643" dy="14.8">15唱《堆雪人》听《雪橇》《铃儿响丁当》</tspan></text></g>
<g id="p2-s6"><rect class="r" x="1637" y="3115" width="242" height="55" rx="5"/><text x="1643" y="3131.9"><tspan x="1643">6唱《丰收之歌》听《霍拉舞曲》我的创造《</tspan><tspan x="1643" dy="14.8">集体舞》16唱《踏雪寻梅》《铃儿响丁当》</tspan><tspan x="1643" dy="14.8">听《冬天的故事》</tspan></text></g>
<g id="p2-s7"><rect class="r" x="1637" y="3194" width="242" height="41" rx="5"/><text x="1643" y="3211.3"><tspan x="1643">7唱《我们的田野》听《春到沂河》集体舞《</tspan><tspan x="1643" dy="14.8">露一手》18期末检测</tspan></text></g>
<g id="p2-s8"><rect class="r" x="1637" y="3260" width="242" height="41" rx="5"/><text x="1643" y="3277.3"><tspan x="1643">8唱《田野的召唤》《红蜻蜓》听《美丽的村</tspan><tspan x="1643" dy="14.8">庄》</tspan></text></g>
<g id="p2-s9"><rect class="r" x="1637" y="3327" width="214" height="25" rx="5"/><text x="1643" y="3343.7">9唱《小竹桥》听《春笋》《小小竹排》</text></g>
<g id="p2-s10"><rect class="r" x="1637" y="3377" width="242" height="41" rx="5"/><text x="1643" y="3394.3"><tspan x="1643">10唱《跳柴歌》听《月光下的凤尾竹》采集</tspan><tspan x="1643" dy="14.8">与分享《我的创造》</tspan></text></g>

<g id="p4"><rect class="p" x="1318" y="4222" width="187" height="33" rx="16.5"/><text class="m big" x="1411.5" y="4243.9">音乐上册教学计划(篇4)</text></g>
<g id="p4-g"><rect class="r" x="1530" y="4226" width="104" height="25" rx="5"/><text class="m" x="1582" y="4242.7">一、教学指导思想</text></g>
<g id="p4-c0"><rect class="r" x="1660" y="3444" width="242" height="173" rx="5"/><text x="1666" y="3460.7"><tspan x="1666">认真学习音乐课程标准，切实掌握新课改的教</tspan><tspan x="1666" dy="14.8">学目标、教学任务、教学内容、及教学方法。</tspan><tspan x="1666" dy="14.8">掌握音乐工作重心及部署，制定音乐教学计划</tspan><tspan x="1666" dy="14.8">，要研究音乐教材，分析每个单元的重难点，</tspan><tspan x="1666" dy="14.8">为安排教学进度打下基础。调查分析任课年级</tspan><tspan x="1666" dy="14.8">学生的基本情况，掌握学生的思想情况，学习</tspan><tspan x="1666" dy="14.8">音乐的兴趣，学习态度，音乐知识，技能基础</tspan><tspan x="1666" dy="14.8">，音乐能力水平，骨干学生及后进生的人数比</tspan><tspan x="1666" dy="14.8">例。做到上课之前认真备课，不断改进教学方</tspan><tspan x="1666" dy="14.8">法，积极运用新课改的教学理念进行教学，做</tspan><tspan x="1666" dy="14.8">到寓教于乐。</tspan></text></g>
<g id="p4-n2"><rect class="r" x="1660" y="3664" width="80" height="26" rx="5"/><text class="m" x="1700" y="3681.2">二、班况分析</text></g>
<g id="p4-c2"><rect class="r" x="1767" y="3643" width="242" height="70" rx="5"/><text x="1773" y="3660"><tspan x="1773">级的学生情况一样，八年级的学生以前都没有</tspan><tspan x="1773" dy="14.8">很好多的接触音乐教育，但学生学习能力比</tspan><tspan x="1773" dy="14.8">低年级的学生强很多，所以在完成教学任务的</tspan><tspan x="1773" dy="14.8">同时，应该尽量的多安排音乐知识讲解。</tspan></text></g>
<g id="p4-n3"><rect class="r" x="1660" y="3859" width="103" height="25" rx="5"/><text class="m" x="1711.5" y="3875.7">三、全册教材分析</text></g>
<g id="p4-t1"><rect class="r" x="1790" y="3738" width="242" height="39" rx="5"/><text x="1796" y="3754.3"><tspan x="1796">1、在原来音乐课唱歌习惯的基础上，培养正</tspan><tspan x="1796" dy="14.8">确的唱歌姿势，加强培养良好的唱歌习惯。</tspan></text></g>
<g id="p4-t2"><rect class="r" x="1790" y="3803" width="242" height="55" rx="5"/><text x="1796" y="3819.9"><tspan x="1796">2、以提高全体同学的音乐素质为目的，注意</tspan><tspan x="1796" dy="14.8">加强民族性与世界性的综合，思想性与艺</tspan><tspan x="1796" dy="14.8">术性的统一。</tspan></text></g>
<g id="p4-t3"><rect class="r" x="1790" y="3884" width="242" height="54" rx="5"/><text x="1796" y="3900.4"><tspan x="1796">3、在音乐课的教育教学中，力求把"唱"、"听</tspan><tspan x="1796" dy="14.8">"、"认""写"、"动"等栏目贯穿于其中，提高</tspan><tspan x="1796" dy="14.8">音乐素质。</tspan></text></g>
<g id="p4-t4"><rect class="r" x="1790" y="3964" width="242" height="41" rx="5"/><text x="1796" y="3981.3"><tspan x="1796">4、继续培养学生正确的练声习惯，力求发声</tspan><tspan x="1796" dy="14.8">准确而且清晰。</tspan></text></g>
<g id="p4-n4"><rect class="r" x="1660" y="4359" width="104" height="25" rx="5"/><text class="m" x="1712" y="4375.7">四、全册教材目标</text></g>
<g id="p4-h1"><rect class="r" x="1790" y="4167" width="87" height="25" rx="5"/><text class="m" x="1833.5" y="4183.7">1、表现要素：</text></g>
<g id="p4-h1a"><rect class="r" x="1903" y="4031" width="243" height="69" rx="5"/><text x="1909" y="4047.5"><tspan x="1909">a对自然界和生活的各种音响感到好奇和有趣</tspan><tspan x="1909" dy="14.8">，能够用自己的声音或乐器进行模仿。能随着</tspan><tspan x="1909" dy="14.8">熟悉的歌曲或乐曲哼唱，或在体态上作出反应</tspan><tspan x="1909" dy="14.8">；</tspan></text></g>
<g id="p4-h1b"><rect class="r" x="1903" y="4126" width="243" height="41" rx="5"/><text x="1909" y="4143.3"><tspan x="1909">b能听辨不同类型的女声和男声。知道常见的</tspan><tspan x="1909" dy="14.8">中国民族乐器和西洋乐器，并能听辨其音色；</tspan></text></g>
<g id="p4-h1c"><rect class="r" x="1903" y="4192" width="243" height="55" rx="5"/><text x="1909" y="4208.9"><tspan x="1909">c在感知音乐节奏和旋律的过程中，能够初步</tspan><tspan x="1909" dy="14.8">辨别节拍的不同，能够听辨旋律的高低、快慢</tspan><tspan x="1909" dy="14.8">、强弱。</tspan></text></g>
<g id="p4-h1d"><rect class="r" x="1903" y="4273" width="243" height="40" rx="5"/><text x="1909" y="4289.8"><tspan x="1909">d能够感知音乐主题、乐句和段落的变化，并</tspan><tspan x="1909" dy="14.8">能够运用体态或线条、色彩作出相应的反应。</tspan></text></g>
<g id="p4-h2"><rect class="r" x="1790" y="4364" width="99" height="25" rx="5"/><text class="m" x="1839.5" y="4380.7">2、情绪与情感：</text></g>
<g id="p4-h2a"><rect class="r" x="1915" y="4339" width="225" height="25" rx="5"/><text x="1921" y="4355.7">a听辨不同的音乐，能用语言作简单描述；</text></g>
<g id="p4-h2b"><rect class="r" x="1915" y="4390" width="191" height="25" rx="5"/><text x="1921" y="4406.7">b能够体验并简述音乐情绪的变化。</text></g>
<g id="p4-h3"><rect class="r" x="1790" y="4550" width="99" height="25" rx="5"/><text class="m" x="1839.5" y="4566.7">3、体裁与形式：</text></g>
<g id="p4-h3a"><rect class="r" x="1915" y="4441" width="242" height="55" rx="5"/><text x="1921" y="4457.9"><tspan x="1921">a聆听少年儿童歌曲、颂歌、抒情歌曲、叙事</tspan><tspan x="1921" dy="14.8">歌曲、艺术歌曲、通俗歌曲等各种体裁和类别</tspan><tspan x="1921" dy="14.8">的歌曲，能够随着歌曲轻声哼唱或默唱；</tspan></text></g>
<g id="p4-h3b"><rect class="r" x="1915" y="4521" width="242" height="40" rx="5"/><text x="1921" y="4537.8"><tspan x="1921">b聆听不同体裁和类别的器乐曲，能够通过律</tspan><tspan x="1921" dy="14.8">动或打击乐对所听音乐作出反应。</tspan></text></g>
<g id="p4-h3c"><rect class="r" x="1915" y="4588" width="201" height="25" rx="5"/><text x="1921" y="4604.7">c能够区别齐唱与合唱、齐奏与合奏。</text></g>
<g id="p4-h3d"><rect class="r" x="1915" y="4638" width="242" height="39" rx="5"/><text x="1921" y="4654.3"><tspan x="1921">d能够初步分辨小型的音乐体裁与形式，能够</tspan><tspan x="1921" dy="14.8">聆听音乐主题说出曲名。</tspan></text></g>
<g id="p4-n5"><rect class="r" x="1660" y="4934" width="150" height="26" rx="5"/><text class="m" x="1735" y="4951.2">五、整册教材的重、难点：</text></g>
<g id="p4-v0"><rect class="r" x="1836" y="4703" width="104" height="25" rx="5"/><text class="m" x="1888" y="4719.7">（一）、唱歌部分</text></g>
<g id="p4-v1"><rect class="r" x="1836" y="4755" width="214" height="24" rx="5"/><text x="1842" y="4771.2">1、紧抠教材、大纲，教唱书本上的歌曲</text></g>
<g id="p4-v2"><rect class="r" x="1836" y="4804" width="237" height="26" rx="5"/><text x="1842" y="4821.2">2、遵循每节课前先教基础练习，再教唱歌曲</text></g>
<g id="p4-v3"><rect class="r" x="1836" y="4857" width="242" height="55" rx="5"/><text x="1842" y="4873.9"><tspan x="1842">3、教唱歌曲遵循先听录音范唱，再由教师教</tspan><tspan x="1842" dy="14.8">谱，教1—2遍词，然后教师弹琴生听音高自</tspan><tspan x="1842" dy="14.8">学，直到正确为止。</tspan></text></g>
<g id="p4-v4"><rect class="r" x="1836" y="4938" width="242" height="53" rx="5"/><text x="1842" y="4953.9"><tspan x="1842">4、每学一支歌曲，下一节课应该进行检查，</tspan><tspan x="1842" dy="14.8">让个别学生起来演唱，若有不正确的地方师及</tspan><tspan x="1842" dy="14.8">时进行教正。</tspan></text></g>
<g id="p4-f"><rect class="r" x="2104" y="5039" width="139" height="27" rx="5"/><text class="m" x="2173.5" y="5056.7">（二）、发声训练部分：</text></g>
<g id="p4-fc"><rect class="r" x="2269" y="5018" width="241" height="69" rx="5"/><text x="2275" y="5034.5"><tspan x="2275">在气息的控制下，逐步扩展高音；运用不同的</tspan><tspan x="2275" dy="14.8">力度、速度、音色表现；唱保持音时，声音要</tspan><tspan x="2275" dy="14.8">饱满；学习二声部合唱，注意音量的均衡，音</tspan><tspan x="2275" dy="14.8">色的协调。</tspan></text></g>
</g>
</svg>
